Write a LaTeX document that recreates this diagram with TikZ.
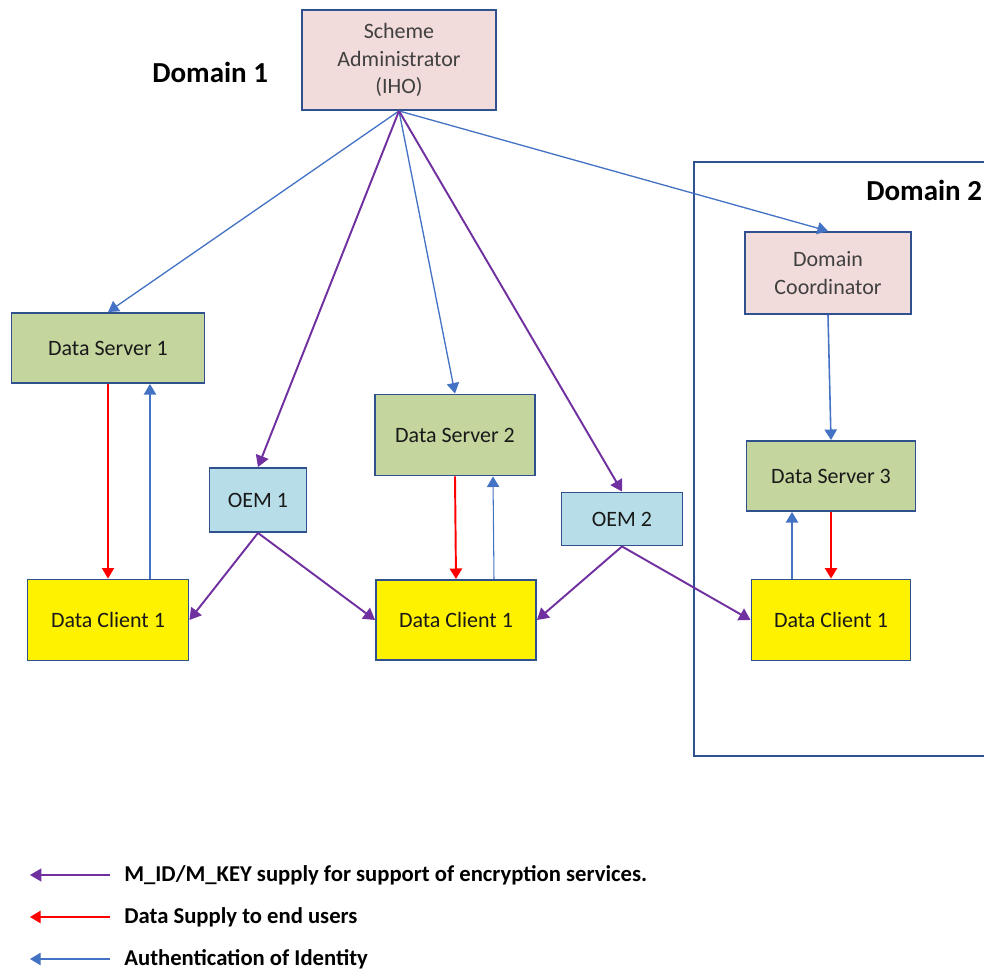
\documentclass[tikz,border=0pt]{standalone}
\usepackage{fontspec}
\setmainfont{Carlito}
\usetikzlibrary{arrows.meta, positioning}
\definecolor{boxblue}{HTML}{2F528F}
\definecolor{authblue}{HTML}{4472C4}
\definecolor{keypurple}{HTML}{7030A0}
\definecolor{adminpink}{HTML}{F2DCDB}
\definecolor{servergreen}{HTML}{C4D69E}
\definecolor{oemblue}{HTML}{B7DEE8}
\tikzset{
  box/.style={draw=boxblue, line width=1.1pt, align=center, text=black!90,
    font=\fontsize{12.5}{15.5}\selectfont},
  adminbox/.style={box, fill=adminpink, text=black!75},
  serverbox/.style={box, fill=servergreen},
  oembox/.style={box, fill=oemblue},
  clientbox/.style={box, fill=yellow},
  autharrow/.style={-{Triangle[width=7pt,length=6pt]}, authblue, line width=0.75pt},
  keyarrow/.style={-{Triangle[width=7.5pt,length=6.5pt]}, keypurple, line width=1.1pt},
  supplyarrow/.style={-{Triangle[width=7pt,length=6pt]}, red, line width=1.1pt},
  domainlabel/.style={font=\bfseries\fontsize{16.5}{19}\selectfont, inner sep=0pt, anchor=west},
  legendtext/.style={font=\bfseries\fontsize{12.9}{15}\selectfont, inner sep=0pt, anchor=west},
}

\begin{document}
\begin{tikzpicture}[x=0.02cm, y=-0.02cm]
  \useasboundingbox (0,0) rectangle (984,969);
  \clip (0,0) rectangle (984,969);

  % domain 2 frame
  \draw[boxblue, line width=0.6pt] (694,162) rectangle (1010,756);
  \node[domainlabel] (dom1) at (152,72) {Domain 1};
  \node[domainlabel] (dom2) at (866,190) {Domain 2};

  \node[adminbox, minimum width=3.88cm, minimum height=2.0cm] (sa) at (399,60)
    {Scheme\\Administrator\\(IHO)};
  \node[adminbox, minimum width=3.32cm, minimum height=1.64cm] (dcoord) at (828,273)
    {Domain\\Coordinator};

  \node[serverbox, minimum width=3.86cm, minimum height=1.4cm] (ds1) at (108,348) {Data Server 1};
  \node[serverbox, minimum width=3.2cm, minimum height=1.62cm] (ds2) at (455,435) {Data Server 2};
  \node[serverbox, minimum width=3.38cm, minimum height=1.4cm] (ds3) at (831,476) {Data Server 3};

  \node[oembox, minimum width=1.94cm, minimum height=1.28cm] (oem1) at (258,500) {OEM 1};
  \node[oembox, minimum width=2.42cm, minimum height=1.06cm] (oem2) at (622,519) {OEM 2};

  \node[clientbox, minimum width=3.22cm, minimum height=1.62cm] (dc1) at (108,620) {Data Client 1};
  \node[clientbox, minimum width=3.2cm, minimum height=1.6cm] (dc2) at (456,620) {Data Client 1};
  \node[clientbox, minimum width=3.18cm, minimum height=1.62cm] (dc3) at (831,620) {Data Client 1};

  % from the scheme administrator
  \foreach \t in {ds1, ds2, dcoord}
    \draw[autharrow] (sa.south) -- (\t.north);
  \foreach \t in {oem1, oem2}
    \draw[keyarrow] (sa.south) -- (\t.north);
  \draw[autharrow, line width=0.9pt] (dcoord.south) -- (ds3.north);

  % server <-> client
  \draw[supplyarrow, line width=0.6pt] (ds1.south) -- (dc1.north);
  \draw[autharrow, line width=0.6pt] ([xshift=0.84cm]dc1.north) -- ([xshift=0.84cm]ds1.south);
  \draw[supplyarrow] (ds2.south) -- (dc2.north);
  \draw[autharrow, line width=0.6pt] ([xshift=0.76cm]dc2.north) -- ([xshift=0.76cm]ds2.south);
  \draw[supplyarrow] (ds3.south) -- (dc3.north);
  \draw[autharrow] ([xshift=-0.78cm]dc3.north) -- ([xshift=-0.78cm]ds3.south);

  % oem -> clients
  \draw[keyarrow] (oem1.south) -- (dc1.east);
  \draw[keyarrow] (oem1.south) -- (dc2.west);
  \draw[keyarrow] (oem2.south) -- (dc2.east);
  \draw[keyarrow] (oem2.south) -- (dc3.west);

  % legend
  \node[legendtext] (lg1) at (124,875) {M\_ID/M\_KEY supply for support of encryption services.};
  \node[legendtext] (lg2) at (124,917) {Data Supply to end users};
  \node[legendtext] (lg3) at (124,959) {Authentication of Identity};
  \coordinate (lg1tip) at (30,875);
  \coordinate (lg2tip) at (30,917);
  \coordinate (lg3tip) at (30,959);
  \draw[keyarrow, line width=0.6pt] ([xshift=-0.28cm]lg1.west) -- (lg1tip);
  \draw[supplyarrow, line width=0.6pt] ([xshift=-0.28cm]lg2.west) -- (lg2tip);
  \draw[autharrow, line width=0.6pt] ([xshift=-0.28cm]lg3.west) -- (lg3tip);
\end{tikzpicture}
\end{document}
